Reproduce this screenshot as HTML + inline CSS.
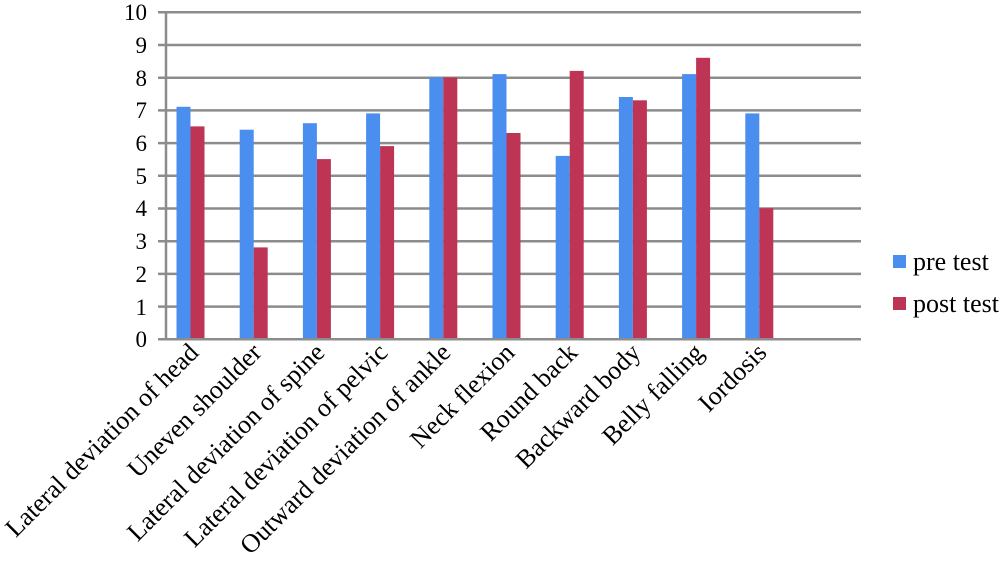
<!DOCTYPE html>
<html><head><meta charset="utf-8"><style>body{margin:0;background:#fff} text{font-family:"Liberation Serif","DejaVu Serif",serif !important}</style></head><body>
<svg width="1000" height="560" xmlns="http://www.w3.org/2000/svg" font-family="Liberation Serif">
<rect width="1000" height="560" fill="#fff"/>
<g stroke="#8c8c8c" stroke-width="2.5">
<line x1="158" y1="12.3" x2="861" y2="12.3"/>
<line x1="158" y1="45" x2="861" y2="45"/>
<line x1="158" y1="77.7" x2="861" y2="77.7"/>
<line x1="158" y1="110.4" x2="861" y2="110.4"/>
<line x1="158" y1="143.1" x2="861" y2="143.1"/>
<line x1="158" y1="175.8" x2="861" y2="175.8"/>
<line x1="158" y1="208.5" x2="861" y2="208.5"/>
<line x1="158" y1="241.2" x2="861" y2="241.2"/>
<line x1="158" y1="273.9" x2="861" y2="273.9"/>
<line x1="158" y1="306.6" x2="861" y2="306.6"/>
<line x1="166" y1="12" x2="166" y2="339"/>
</g>
<g fill="#4a8ff0">
<rect x="176.5" y="106.8" width="14" height="232.2"/>
<rect x="239.7" y="129.7" width="14" height="209.3"/>
<rect x="302.9" y="123.2" width="14" height="215.8"/>
<rect x="366.1" y="113.4" width="14" height="225.6"/>
<rect x="429.3" y="77.4" width="14" height="261.6"/>
<rect x="492.5" y="74.1" width="14" height="264.9"/>
<rect x="555.7" y="155.9" width="14" height="183.1"/>
<rect x="618.9" y="97" width="14" height="242"/>
<rect x="682.1" y="74.1" width="14" height="264.9"/>
<rect x="745.3" y="113.4" width="14" height="225.6"/>
</g>
<g fill="#be3455">
<rect x="190.5" y="126.4" width="14" height="212.6"/>
<rect x="253.7" y="247.4" width="14" height="91.6"/>
<rect x="316.9" y="159.1" width="14" height="179.9"/>
<rect x="380.1" y="146.1" width="14" height="192.9"/>
<rect x="443.3" y="77.4" width="14" height="261.6"/>
<rect x="506.5" y="133" width="14" height="206"/>
<rect x="569.7" y="70.9" width="14" height="268.1"/>
<rect x="632.9" y="100.3" width="14" height="238.7"/>
<rect x="696.1" y="57.8" width="14" height="281.2"/>
<rect x="759.3" y="208.2" width="14" height="130.8"/>
</g>
<line x1="158" y1="339.3" x2="861" y2="339.3" stroke="#8c8c8c" stroke-width="2.5"/>
<g font-size="23" text-anchor="end" fill="#000" font-family="Liberation Serif">
<text x="147" y="20">10</text><text x="147" y="53">9</text><text x="147" y="86">8</text><text x="147" y="118">7</text><text x="147" y="151">6</text><text x="147" y="184">5</text><text x="147" y="216">4</text><text x="147" y="249">3</text><text x="147" y="282">2</text><text x="147" y="315">1</text><text x="147" y="347">0</text>
</g>
<g font-size="26" text-anchor="end" fill="#000">
<text x="200" y="354" transform="rotate(-45 200 354)">Lateral deviation of head</text>
<text x="263" y="354" transform="rotate(-45 263 354)">Uneven shoulder</text>
<text x="326" y="354" transform="rotate(-45 326 354)">Lateral deviation of spine</text>
<text x="389" y="354" transform="rotate(-45 389 354)">Lateral deviation of pelvic</text>
<text x="452" y="354" transform="rotate(-45 452 354)">Outward deviation of ankle</text>
<text x="516" y="354" transform="rotate(-45 516 354)">Neck flexion</text>
<text x="579" y="354" transform="rotate(-45 579 354)">Round back</text>
<text x="642" y="354" transform="rotate(-45 642 354)">Backward body</text>
<text x="705" y="354" transform="rotate(-45 705 354)">Belly falling</text>
<text x="768" y="354" transform="rotate(-45 768 354)">Iordosis</text>
</g>
<rect x="893" y="255" width="13" height="13" fill="#4a8ff0"/>
<text x="913" y="270" font-size="26" font-family="Liberation Serif">pre test</text>
<rect x="893" y="297" width="13" height="13" fill="#be3455"/>
<text x="913" y="312" font-size="26" font-family="Liberation Serif">post test</text>
</svg>
</body></html>
